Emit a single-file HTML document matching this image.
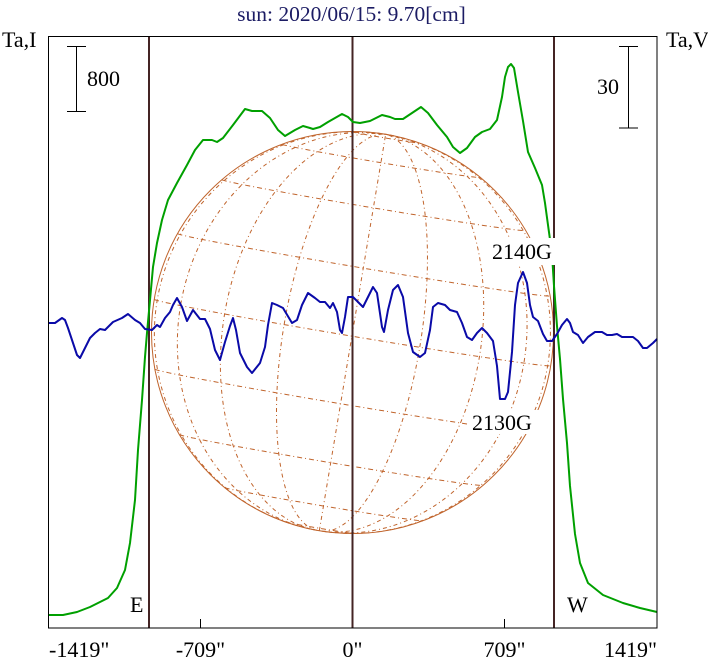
<!DOCTYPE html>
<html>
<head>
<meta charset="utf-8">
<style>
  html, body { margin:0; padding:0; background:#ffffff; }
  body { width:708px; height:662px; overflow:hidden; }
  svg { display:block; }
  text { font-family: "Liberation Serif", "DejaVu Serif", serif; }
</style>
</head>
<body>
<svg id="chart" width="708" height="662" viewBox="0 0 708 662" xmlns="http://www.w3.org/2000/svg">
  <rect x="0" y="0" width="708" height="662" fill="#ffffff"/>
  <g id="grid" fill="none" stroke="#c0642c" stroke-width="1"></g>
  <circle cx="352.5" cy="332.5" r="201" fill="none" stroke="#c0642c" stroke-width="1"/>

  <!-- vertical E / 0 / W lines -->
  <line x1="149" y1="36" x2="149" y2="628" stroke="#442424" stroke-width="2"/>
  <line x1="352.5" y1="36" x2="352.5" y2="628" stroke="#442424" stroke-width="2"/>
  <line x1="554" y1="36" x2="554" y2="628" stroke="#442424" stroke-width="2"/>

  <!-- green intensity curve -->
  <polyline fill="none" stroke="#00a000" stroke-width="2" stroke-linejoin="round"
    points="48,615 63,615 77,612 90,607 108,598 117,588 125,570 130,543 135,500 138,450 142,400 145,357 147,333 150,300 153,267 157,243 162,220 168,200 177,183 187,165 195,150 203,140 212,140 217,142 223,138 233,125 245,109 252,111 262,111 270,118 278,130 285,136 295,130 303,126 310,128 313,129 320,127 328,122 342,114 348,117 353,122 360,123 370,121 382,115 390,117 395,119 403,119 412,113 421,107 428,113 437,125 447,137 453,147 460,153 467,148 475,137 482,132 490,129 497,120 502,97 505,77 508,67 511,64 514,68 518,92 523,121 528,152 535,168 542,185 545,203 548,225 552,254 554,286 557,326 560,359 563,399 567,443 570,486 575,534 580,563 588,583 603,595 623,603 640,608 657,612"/>

  <!-- blue V curve -->
  <polyline fill="none" stroke="#0a0aa8" stroke-width="2" stroke-linejoin="round"
    points="48,323 55,323 62,318 65,320 68,328 73,343 77,355 80,358 85,348 90,338 95,333 100,329 105,330 113,322 122,318 128,314 135,320 140,323 145,329 152,330 157,325 160,327 165,318 170,312 173,305 177,298 182,307 187,321 193,310 200,319 205,319 210,329 215,350 220,360 225,342 230,326 233,318 236,330 240,353 247,367 252,373 260,363 265,347 268,325 272,303 277,305 283,308 292,323 297,320 302,305 308,293 315,298 320,302 325,302 330,308 333,303 337,312 340,330 342,333 345,317 348,297 353,297 358,302 363,307 368,297 373,287 377,293 382,327 384,332 388,310 393,290 398,285 403,297 408,333 413,352 420,357 425,353 430,330 433,307 438,303 445,305 450,310 457,312 462,323 467,337 472,340 477,333 482,328 487,333 493,341 497,366 500,399 505,399 508,392 512,352 515,305 518,283 523,272 527,283 530,305 533,317 538,321 543,334 547,341 552,341 557,334 562,325 567,319 570,323 573,332 578,335 583,343 588,337 595,332 602,332 607,335 612,335 617,334 622,337 627,337 633,337 638,341 643,348 647,348 653,343 657,339"/>

  <!-- labels with white boxes -->
  <rect x="490" y="238" width="66" height="27" fill="#ffffff"/>
  <text x="492" y="259" font-size="22" fill="#000">2140G</text>
  <rect x="469" y="410" width="71" height="24" fill="#ffffff"/>
  <text x="472" y="430" font-size="22" fill="#000">2130G</text>

  <!-- frame -->
  <rect x="48.5" y="36.5" width="608.5" height="591.5" fill="none" stroke="#000" stroke-width="1"/>

  <!-- ticks -->
  <line x1="200.5" y1="619" x2="200.5" y2="628" stroke="#000" stroke-width="1"/>
  <line x1="504.5" y1="619" x2="504.5" y2="628" stroke="#000" stroke-width="1"/>

  <!-- scale bars -->
  <line x1="76.5" y1="46.5" x2="76.5" y2="111.5" stroke="#000" stroke-width="1"/>
  <line x1="67" y1="46.5" x2="86" y2="46.5" stroke="#000" stroke-width="1"/>
  <line x1="67" y1="111.5" x2="86" y2="111.5" stroke="#000" stroke-width="1"/>
  <line x1="628.5" y1="46.5" x2="628.5" y2="128" stroke="#000" stroke-width="1"/>
  <line x1="619" y1="46.5" x2="638" y2="46.5" stroke="#000" stroke-width="1"/>
  <line x1="619" y1="128" x2="638" y2="128" stroke="#000" stroke-width="1"/>

  <!-- text -->
  <text x="351.5" y="21" font-size="21.5" fill="#1c1c64" text-anchor="middle">sun: 2020/06/15: 9.70[cm]</text>
  <text x="2" y="47" font-size="22" fill="#000">Ta,I</text>
  <text x="666" y="47" font-size="22" fill="#000">Ta,V</text>
  <text x="87" y="86" font-size="22" fill="#000">800</text>
  <text x="597" y="94" font-size="22" fill="#000">30</text>
  <text x="130" y="612" font-size="22" fill="#000">E</text>
  <text x="567" y="612" font-size="22" fill="#000">W</text>

  <text x="49" y="657" font-size="22" fill="#000">-1419"</text>
  <text x="200.5" y="657" font-size="22" fill="#000" text-anchor="middle">-709"</text>
  <text x="352.5" y="657" font-size="22" fill="#000" text-anchor="middle">0"</text>
  <text x="504.5" y="657" font-size="22" fill="#000" text-anchor="middle">709"</text>
  <text x="657" y="657" font-size="22" fill="#000" text-anchor="end">1419"</text>
</svg>
<script>
(function(){
  var D = Math.PI/180;
  var cx = 352.5, cy = 332.5, R = 201;
  var B0 = 1.06*D, P = -9.5*D;
  function proj(lat, lon){
    var f = lat*D, l = lon*D;
    var x = R*Math.cos(f)*Math.sin(l);
    var y = R*(Math.sin(f)*Math.cos(B0) - Math.cos(f)*Math.cos(l)*Math.sin(B0));
    var z = Math.sin(f)*Math.sin(B0) + Math.cos(f)*Math.cos(l)*Math.cos(B0);
    var xs = x*Math.cos(P) - y*Math.sin(P);
    var ys = x*Math.sin(P) + y*Math.cos(P);
    return [cx + xs, cy - ys, z];
  }
  var g = document.getElementById('grid');
  var NS = 'http://www.w3.org/2000/svg';
  function addPath(pts, dash){
    var segs = [], cur = [];
    for (var i=0;i<pts.length;i++){
      var p = pts[i];
      if (p[2] >= 0) { cur.push(p); }
      else { if (cur.length>1) segs.push(cur); cur = []; }
    }
    if (cur.length>1) segs.push(cur);
    segs.forEach(function(s){
      var d = 'M' + s.map(function(p){return p[0].toFixed(2)+' '+p[1].toFixed(2);}).join(' L');
      var el = document.createElementNS(NS,'path');
      el.setAttribute('d', d);
      el.setAttribute('stroke-dasharray', dash);
      g.appendChild(el);
    });
  }
  for (var lat=-80; lat<=80; lat+=20){
    var pts = [];
    for (var lon=-180; lon<=180; lon+=1) pts.push(proj(lat, lon));
    addPath(pts, '5,3,1,3');
  }
  for (var lon=-80; lon<=80; lon+=20){
    var pts = [];
    for (var lat=-90; lat<=90; lat+=1) pts.push(proj(lat, lon));
    addPath(pts, '4,3,1,3');
  }
})();
</script>
</body>
</html>
